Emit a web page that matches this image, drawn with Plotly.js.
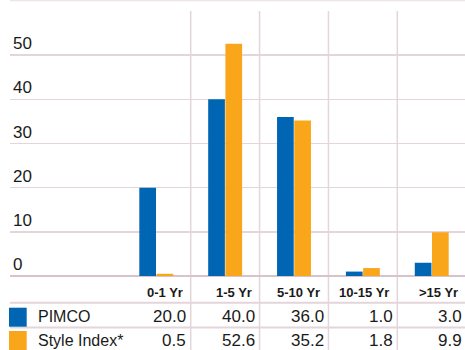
<!DOCTYPE html>
<html>
<head>
<meta charset="utf-8">
<script src="https://cdn.plot.ly/plotly-3.0.1.min.js"></script>
<style>html,body{margin:0;padding:0;background:#fff}</style>
</head>
<body>
<div id="chart" style="width:465px;height:350px"></div>
<script>
// Maturity buckets and allocation (%) per series
const buckets = ['0-1 Yr', '1-5 Yr', '5-10 Yr', '10-15 Yr', '>15 Yr'];
const pimco = [20.0, 40.0, 36.0, 1.0, 3.0];
const styleIndex = [0.5, 52.6, 35.2, 1.8, 9.9];
const seriesNames = ['PIMCO', 'Style Index*'];
const yTickVals = [0, 10, 20, 30, 40, 50, 60];
const yTickText = ['0', '10', '20', '30', '40', '50', ''];

const BLUE = '#0066b3';
const ORANGE = '#f9a61b';
const GRID = '#e4d5db';
const AXIS = '#d8c2cb';
const TEXT = '#1a1a1a';
const SANS = '"Liberation Sans", Arial, sans-serif';

const idx = buckets.map((_, i) => i);
const series = [pimco, styleIndex];
const colors = [BLUE, ORANGE];

const traces = series.map((vals, s) => ({
  type: 'bar',
  x: idx,
  y: vals,
  name: seriesNames[s],
  marker: {color: colors[s], line: {width: 0}},
  hoverinfo: 'skip',
  showlegend: false
}));

// Plot box in pixels; helpers convert pixel rows/columns to paper units
const PLOT_TOP = 11, PLOT_BOTTOM = 276, PLOT_H = PLOT_BOTTOM - PLOT_TOP;
const PLOT_L = 10, PLOT_W = 455;
const X_RANGE = [-2.124, 4.483];
const PX_PER_UNIT = PLOT_W / (X_RANGE[1] - X_RANGE[0]);
const py = p => (PLOT_BOTTOM - p) / PLOT_H;
const px = p => (p - PLOT_L) / PLOT_W;

const shapes = [];
// category separators running through the chart and the table
for (let i = 0; i < buckets.length - 1; i++) {
  shapes.push({type: 'line', xref: 'x', yref: 'paper', x0: i + 0.5, x1: i + 0.5,
    y0: 1, y1: py(350), line: {color: GRID, width: 1.5}, layer: 'below'});
}
// faint top rule
shapes.push({type: 'line', xref: 'paper', yref: 'paper', x0: 0, x1: 1,
  y0: py(0.6), y1: py(0.6), line: {color: '#eee3e7', width: 1.2}});
// table row rules
[302.7, 327.6].forEach(p => shapes.push({type: 'line', xref: 'paper', yref: 'paper',
  x0: 0, x1: 1, y0: py(p), y1: py(p), line: {color: GRID, width: 2}}));
// legend swatches in the table
const rowTop = [307.7, 331];
const rowBot = [326.7, 350];
series.forEach((_, s) => shapes.push({type: 'rect', xref: 'paper', yref: 'paper',
  x0: px(9), x1: px(26.7), y0: py(rowBot[s]), y1: py(rowTop[s]),
  fillcolor: colors[s], line: {width: 0}}));

// cell text is right-aligned against each category's right edge
const CELL_ANCHOR = 0.4;
const edgeShift = pad => (0.5 - CELL_ANCHOR) * PX_PER_UNIT - pad;

const annotations = [];
const rowCenter = [316.3, 340.7];
// header row
buckets.forEach((b, i) => annotations.push({
  xref: 'x', yref: 'paper', x: i + CELL_ANCHOR, y: py(292), xanchor: 'right', yanchor: 'middle',
  xshift: edgeShift(6), text: '<b>' + b + '</b>', showarrow: false,
  font: {family: SANS, size: 13, color: TEXT}
}));
// series rows
series.forEach((vals, s) => {
  annotations.push({
    xref: 'paper', yref: 'paper', x: px(36), y: py(rowCenter[s]), xanchor: 'left', yanchor: 'middle',
    text: seriesNames[s], showarrow: false, font: {family: SANS, size: 16, color: TEXT}
  });
  vals.forEach((v, i) => annotations.push({
    xref: 'x', yref: 'paper', x: i + CELL_ANCHOR, y: py(rowCenter[s]), xanchor: 'right', yanchor: 'middle',
    xshift: edgeShift(2.5), text: v.toFixed(1), showarrow: false, font: {family: SANS, size: 17, color: TEXT}
  }));
});

const layout = {
  width: 465, height: 350,
  margin: {l: PLOT_L, r: 0, t: PLOT_TOP, b: 350 - PLOT_BOTTOM, pad: 0},
  paper_bgcolor: '#ffffff', plot_bgcolor: '#ffffff',
  barmode: 'group', bargap: 0.5, bargroupgap: 0.03,
  xaxis: {range: X_RANGE, showticklabels: false, showgrid: false, zeroline: false,
    showline: false, ticks: '', fixedrange: true},
  yaxis: {range: [0, 60], tickvals: yTickVals, ticktext: yTickText,
    ticklabelposition: 'inside top', ticks: '', showgrid: true, gridcolor: GRID, gridwidth: 1.5,
    zeroline: true, zerolinecolor: AXIS, zerolinewidth: 2.5, showline: false,
    tickfont: {family: SANS, size: 17, color: TEXT}, fixedrange: true},
  shapes: shapes,
  annotations: annotations
};

Plotly.newPlot('chart', traces, layout, {displayModeBar: false, staticPlot: true});
</script>
</body>
</html>
